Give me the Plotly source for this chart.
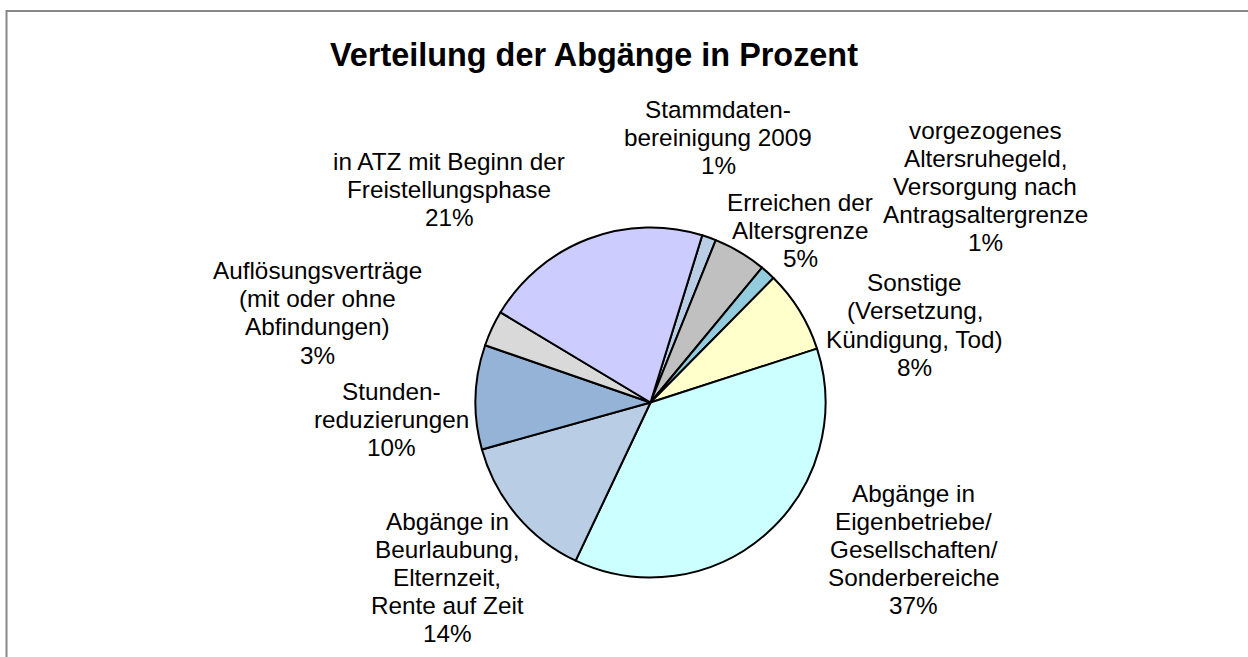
import plotly.graph_objects as go

# ---- data ----
categories = [
    "Stammdaten-<br>bereinigung 2009",
    "Erreichen der<br>Altersgrenze",
    "vorgezogenes<br>Altersruhegeld,<br>Versorgung nach<br>Antragsaltergrenze",
    "Sonstige<br>(Versetzung,<br>Kündigung, Tod)",
    "Abgänge in<br>Eigenbetriebe/<br>Gesellschaften/<br>Sonderbereiche",
    "Abgänge in<br>Beurlaubung,<br>Elternzeit,<br>Rente auf Zeit",
    "Stunden-<br>reduzierungen",
    "Auflösungsverträge<br>(mit oder ohne<br>Abfindungen)",
    "in ATZ mit Beginn der<br>Freistellungsphase",
]
values = [1.3, 4.9, 1.4, 7.6, 36.9, 13.6, 9.6, 3.3, 21.1]
colors = ["#B9CDE5", "#C0C0C0", "#93CDDD", "#FFFFCC", "#CCFFFF",
          "#B9CDE5", "#95B3D7", "#D9D9D9", "#CCCCFF"]
title_text = "Verteilung der Abgänge in Prozent"

# label placement (pixel centre x, centre y of first line)
label_pos = [(718, 109), (800, 203), (985, 131), (915, 283), (914, 493),
             (447, 521), (391, 391), (317, 271), (449, 161)]
LINE_H = 28.0

W, H = 1248, 657
cx, cy, r = 650.5, 402.5, 175

fig = go.Figure()
fig.add_trace(go.Pie(
    labels=[c.replace("<br>", " ") for c in categories],
    values=values,
    sort=False,
    direction="clockwise",
    rotation=17.2,
    marker=dict(colors=colors, line=dict(color="black", width=2)),
    textinfo="none",
    hoverinfo="label+percent",
    showlegend=False,
    domain=dict(x=[(cx - r) / W, (cx + r) / W], y=[1 - (cy + r) / H, 1 - (cy - r) / H]),
))

total = sum(values)
annotations = []
for cat, v, (px, py) in zip(categories, values, label_pos):
    lines = cat.split("<br>") + [f"{round(v / total * 100)}%"]
    for i, ln in enumerate(lines):
        annotations.append(dict(
            x=px / W, y=1 - (py + i * LINE_H) / H, xref="paper", yref="paper",
            text=ln, showarrow=False, xanchor="center", yanchor="middle",
            font=dict(family="Liberation Sans, Arial", size=24.3, color="black"),
        ))
annotations.append(dict(
    x=594 / W, y=1 - 55 / H, xref="paper", yref="paper", text=f"<b>{title_text}</b>",
    showarrow=False, xanchor="center", yanchor="middle",
    font=dict(family="Liberation Sans, Arial", size=32.4, color="black"),
))

fig.update_layout(
    width=W, height=H,
    margin=dict(l=0, r=0, t=0, b=0),
    paper_bgcolor="white", plot_bgcolor="white",
    annotations=annotations,
    shapes=[dict(type="path", xref="paper", yref="paper",
                 path=f"M {6.5/W},-0.05 L {6.5/W},{1-11/H} L 1.05,{1-11/H}",
                 line=dict(color="#888888", width=2))],
)

fig.write_html("out.html", config={"displayModeBar": False},
               post_script="document.body.style.margin='0';document.body.style.overflow='hidden';")
